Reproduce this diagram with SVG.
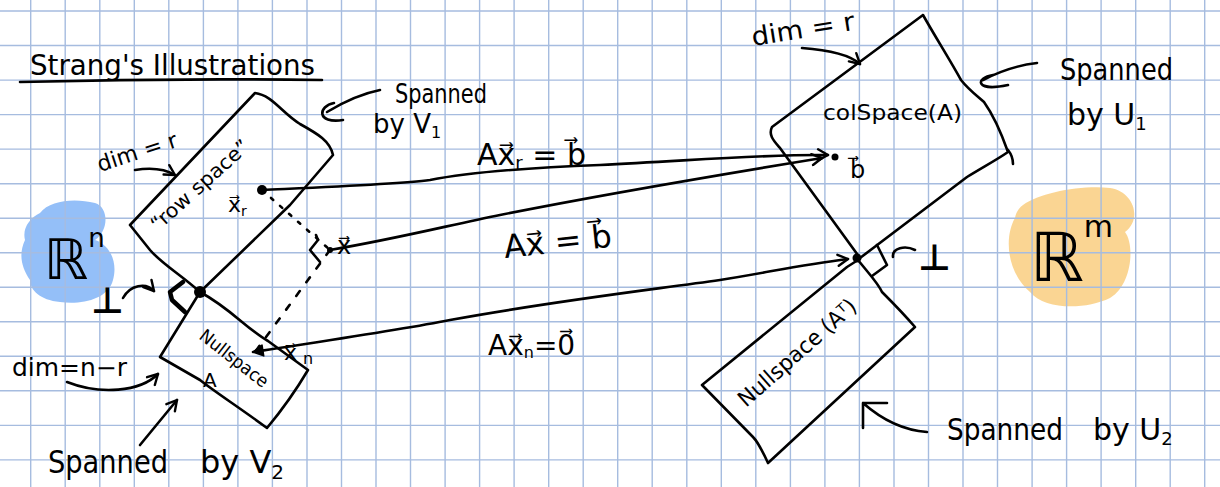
<svg xmlns="http://www.w3.org/2000/svg" width="1220" height="487" viewBox="0 0 1220 487">
<style>
.ink{fill:none;stroke:#000;stroke-width:2.6;stroke-linecap:round;stroke-linejoin:round}
.thick{fill:none;stroke:#000;stroke-width:4.5;stroke-linecap:round;stroke-linejoin:round}
.t{font-family:"DejaVu Sans","Liberation Sans",sans-serif;fill:#000}
.grid{fill:none;stroke:#a6bcdf;stroke-width:1.4}
.dot{fill:#000}
</style>
<defs>
<marker id="ah" viewBox="0 0 14 14" refX="12" refY="7" markerWidth="14" markerHeight="14" markerUnits="userSpaceOnUse" orient="auto">
<path d="M2,1.5 L12,7 L2,12.5" fill="none" stroke="#000" stroke-width="2.4" stroke-linecap="round" stroke-linejoin="round"/>
</marker>
<marker id="ahs" viewBox="0 0 14 14" refX="2" refY="7" markerWidth="14" markerHeight="14" markerUnits="userSpaceOnUse" orient="auto">
<path d="M12,1.5 L2,7 L12,12.5 Z" fill="#000" stroke="#000" stroke-width="1.5" stroke-linejoin="round"/>
</marker>
</defs>
<rect width="1220" height="487" fill="#fff"/>
<g id="Rn-blob"><path d="M40,213 C50,200 75,198 95,203 C110,208 108,232 95,240 C110,245 118,262 113,280 C108,300 80,305 60,302 C40,300 30,290 30,280 C22,268 18,255 25,240 C22,228 30,218 40,213 Z" fill="#3d8af2" opacity="0.55"/></g>
<g id="Rm-blob"><path d="M1023,205 C1040,193 1080,185 1110,188 C1135,192 1142,220 1125,232 C1135,245 1132,285 1110,298 C1085,310 1045,310 1030,292 C1005,270 1005,235 1015,218 C1016,212 1019,208 1023,205 Z" fill="#f5b33a" opacity="0.55"/></g>
<g id="grid">
<path class="grid" d="M30.7,0V487M65.2,0V487M99.8,0V487M134.3,0V487M168.8,0V487M203.4,0V487M237.9,0V487M272.4,0V487M307,0V487M341.5,0V487M376,0V487M410.5,0V487M445.1,0V487M479.6,0V487M514.1,0V487M548.7,0V487M583.2,0V487M617.7,0V487M652.2,0V487M686.8,0V487M721.3,0V487M755.8,0V487M790.4,0V487M824.9,0V487M859.4,0V487M894,0V487M928.5,0V487M963,0V487M997.5,0V487M1032.1,0V487M1066.6,0V487M1101.1,0V487M1135.7,0V487M1170.2,0V487M1204.7,0V487"/>
<path class="grid" d="M0,11H1220M0,45.5H1220M0,80.1H1220M0,114.6H1220M0,149.1H1220M0,183.7H1220M0,218.2H1220M0,252.7H1220M0,287.2H1220M0,321.8H1220M0,356.3H1220M0,390.8H1220M0,425.4H1220M0,459.9H1220"/>
</g>
<g id="title">
<text class="t" x="30" y="75" font-size="28" textLength="285" lengthAdjust="spacingAndGlyphs">Strang's Illustrations</text>
<path class="ink" d="M20,82 Q170,78 322,80"/>
</g>
<g id="Rn"><text class="t" x="44" y="279" font-size="56">ℝ<tspan font-size="26" dy="-32">n</tspan></text></g>
<g id="Rm"><text class="t" x="1030" y="281" font-size="68">ℝ<tspan font-size="30" dy="-44">m</tspan></text></g>
<g id="rowspace">
<path class="ink" d="M130,225 L255,93 C272,95 282,113 300,124 C318,134 330,141 333,155 L290,205 L200,292 C180,274 162,264 150,250 Z"/>
<text class="t" x="158" y="232" font-size="20" transform="rotate(-42 158 232)" textLength="125" lengthAdjust="spacingAndGlyphs">“row space”</text>
</g>
<g id="nullspace">
<path class="ink" d="M200,292 C230,308 248,330 268,341 L308,370 C295,392 282,410 267,428 C240,408 215,392 200,380 L160,357 L200,292"/>
<text class="t" x="198" y="338" font-size="18" transform="rotate(38 198 338)" textLength="82" lengthAdjust="spacingAndGlyphs">Nullspace</text>
<text class="t" x="203" y="387" font-size="20">A</text>
</g>
<g id="colspace">
<path class="ink" d="M923,15 L772,127 C768,135 774,141 780,148 L860,258 L967,177 C985,166 998,159 1008,152 C1002,135 994,116 984,102 C976,95 968,89 961,80 C950,60 936,38 923,15 Z"/>
<path class="ink" d="M1008,150 C1012,155 1013,160 1013,164"/>
<text class="t" x="823" y="120" font-size="22" textLength="139" lengthAdjust="spacingAndGlyphs">colSpace(A)</text>
</g>
<g id="leftnullspace">
<path class="ink" d="M858,260 C870,275 878,283 882,292 C892,302 902,312 915,327 L768,463 C762,450 758,442 753,437 L702,385 L847,267 Z"/>
<text class="t" x="746" y="408" font-size="22" transform="rotate(-41.5 746 408)" textLength="150" lengthAdjust="spacingAndGlyphs">Nullspace (Aᵀ)</text>
</g>
<g id="vectors">
<circle class="dot" cx="200" cy="292" r="6"/>
<circle class="dot" cx="262" cy="190" r="5"/>
<circle class="dot" cx="330" cy="250" r="3"/>
<circle class="dot" cx="835" cy="157" r="3.5"/>
<circle class="dot" cx="857" cy="258" r="4.5"/>
<path class="ink" d="M262,190 L330,250" stroke-dasharray="3 9"/>
<path class="ink" d="M330,250 L255,352" stroke-dasharray="6 11"/>
<path class="ink" d="M316,235 L318,240 L310,250 L320,262"/>
<path class="thick" d="M183,282 L170,292 L172,300 L185,312"/>
<path class="ink" d="M877,245 L887,265 L872,276"/>
<text class="t" x="228" y="212" font-size="22">x&#x20D7;<tspan font-size="14" dy="4">r</tspan></text>
<text class="t" x="337" y="254" font-size="24">x&#x20D7;</text>
<text class="t" x="284" y="360" font-size="22">x&#x20D7;<tspan font-size="16" dx="6" dy="4">n</tspan></text>
<text class="t" x="850" y="178" font-size="24">b&#x20D7;</text>
</g>
<g id="connectors">
<path class="ink" marker-end="url(#ah)" d="M262,190 C350,186 400,184 430,180 C470,172 520,168 600,165 C700,160 770,154 828,155"/>
<path class="ink" marker-end="url(#ah)" d="M330,250 C400,238 450,225 500,215 C600,195 700,178 822,158"/>
<path class="ink" marker-start="url(#ahs)" marker-end="url(#ah)" d="M253,352 C330,340 400,330 450,320 C560,300 650,290 720,280 C770,272 800,265 848,259"/>
<text class="t" x="477" y="165" font-size="30">Ax&#x20D7;<tspan font-size="18" dy="4">r</tspan><tspan dy="-4"> = b&#x20D7;</tspan></text>
<text class="t" x="505" y="258" font-size="32" transform="rotate(-6 505 258)">Ax&#x20D7; = b&#x20D7;</text>
<text class="t" x="488" y="355" font-size="28">Ax&#x20D7;<tspan font-size="16" dy="3">n</tspan><tspan dy="-3">=0&#x20D7;</tspan></text>
</g>
<g id="annotations">
<text class="t" x="100" y="172" font-size="22" transform="rotate(-18 100 172)">dim = r</text>
<path class="ink" marker-end="url(#ah)" d="M135,170 Q160,166 175,175"/>
<text class="t" x="91" y="313" font-size="36" font-weight="bold">⊥</text>
<path class="ink" marker-end="url(#ah)" d="M123,298 C130,285 146,282 154,291"/>
<text class="t" x="12" y="376" font-size="24" textLength="115" lengthAdjust="spacingAndGlyphs">dim=n−r</text>
<path class="ink" marker-end="url(#ah)" d="M67,382 C100,395 140,392 158,374"/>
<text class="t" x="48" y="473" font-size="32" textLength="120" lengthAdjust="spacingAndGlyphs">Spanned</text>
<text class="t" x="200" y="473" font-size="32">by V<tspan font-size="20" dy="6">2</tspan></text>
<path class="ink" marker-end="url(#ah)" d="M140,445 L177,400"/>
<text class="t" x="395" y="103" font-size="26" textLength="92" lengthAdjust="spacingAndGlyphs">Spanned</text>
<text class="t" x="373" y="133" font-size="26">by V<tspan font-size="16" dy="5">1</tspan></text>
<path class="ink" d="M380,90 Q355,95 327,112 M334,103 C318,106 316,124 343,120"/>
<text class="t" x="753" y="46" font-size="26" transform="rotate(-9 753 46)" textLength="104" lengthAdjust="spacingAndGlyphs">dim = r</text>
<path class="ink" marker-end="url(#ah)" d="M802,48 C830,50 850,55 860,64"/>
<text class="t" x="1060" y="80" font-size="30" textLength="113" lengthAdjust="spacingAndGlyphs">Spanned</text>
<text class="t" x="1067" y="125" font-size="30">by  U<tspan font-size="18" dy="5">1</tspan></text>
<path class="ink" d="M1037,63 Q1010,66 983,80 M993,75 C975,78 975,92 1008,85"/>
<text class="t" x="918" y="270" font-size="36" font-weight="bold">⊥</text>
<path class="ink" d="M893,257 C892,248 905,245 915,250"/>
<text class="t" x="947" y="440" font-size="30" textLength="116" lengthAdjust="spacingAndGlyphs">Spanned</text>
<text class="t" x="1093" y="440" font-size="30">by  U<tspan font-size="18" dy="5">2</tspan></text>
<path class="ink" d="M927,432 C900,430 880,418 863,403 M863,403 L863,428 M863,403 L887,403"/>
</g>
</svg>
